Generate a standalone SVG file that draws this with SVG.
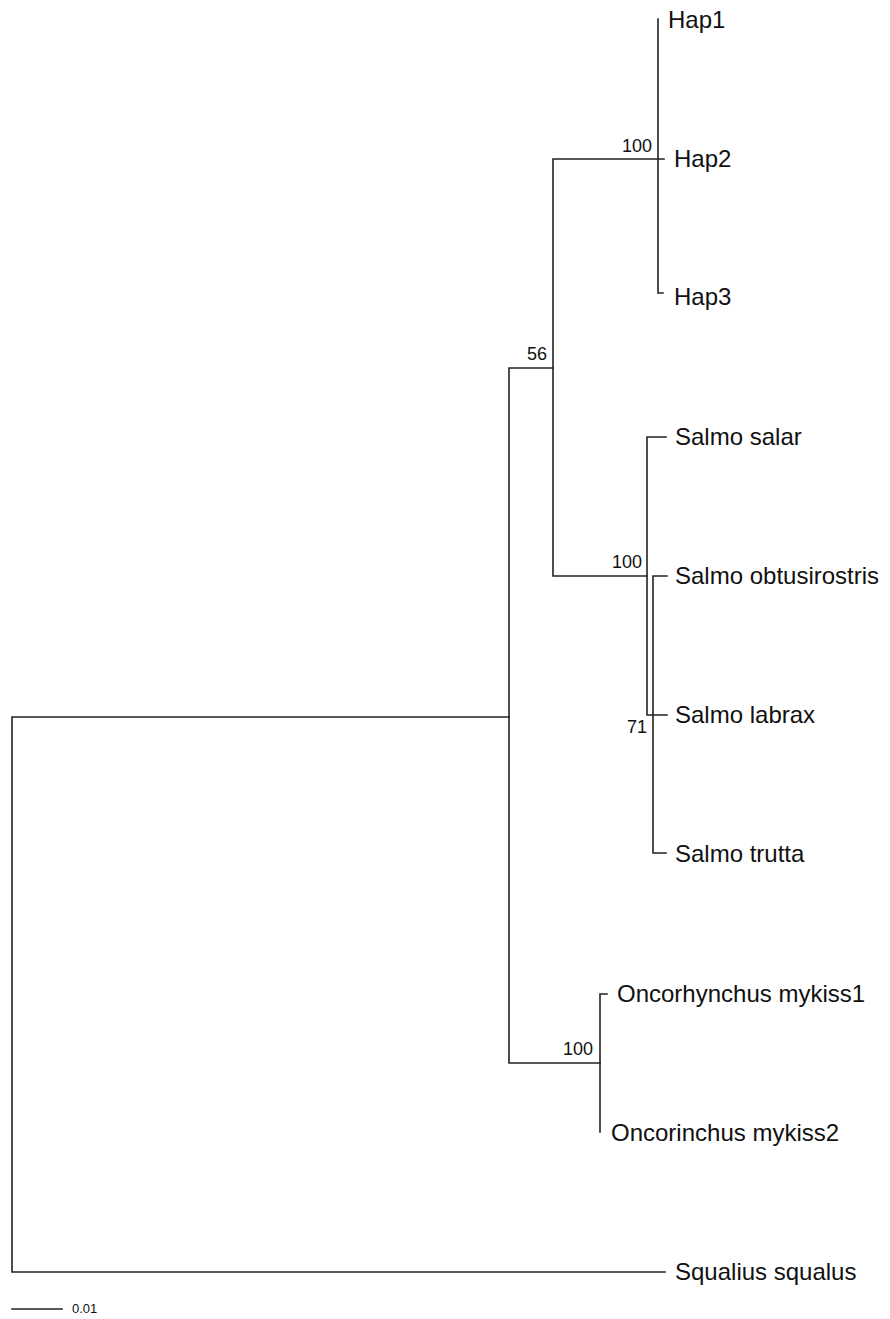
<svg xmlns="http://www.w3.org/2000/svg" width="890" height="1319" viewBox="0 0 890 1319">
<style>
.br{fill:none;stroke:#222;stroke-width:1.6;stroke-linecap:square}
.tx{font-family:"Liberation Sans",Arial,sans-serif;font-size:24px;fill:#111}
.bs{font-family:"Liberation Sans",Arial,sans-serif;font-size:18px;fill:#111;text-anchor:end}
.sc{font-family:"Liberation Sans",Arial,sans-serif;font-size:13px;fill:#111}
</style>
<rect width="890" height="1319" fill="#fff"/>
<g id="connectors">
<path class="br" d="M12,717 H509 M12,717 V1272 H665"/>
<path class="br" d="M509,368 V1063 M509,368 H553 M509,1063 H600"/>
<path class="br" d="M553,159 V576 M553,159 H664 M553,576 H647"/>
<path class="br" d="M658,19 V293 H663"/>
<path class="br" d="M647,437 V715 M647,437 H666 M647,715 H667"/>
<path class="br" d="M653,576 V853 H666 M653,576 H667"/>
<path class="br" d="M600,994 V1132 M600,994 H607"/>
</g>
<g id="bootstrap">
<text class="bs" x="652" y="152">100</text>
<text class="bs" x="547" y="360">56</text>
<text class="bs" x="642" y="568">100</text>
<text class="bs" x="647" y="733">71</text>
<text class="bs" x="593" y="1055">100</text>
</g>
<g id="Hap1"><text class="tx" x="668" y="28">Hap1</text></g>
<g id="Hap2"><text class="tx" x="674" y="167">Hap2</text></g>
<g id="Hap3"><text class="tx" x="674" y="305">Hap3</text></g>
<g id="SalmoSalar"><text class="tx" x="675" y="445">Salmo salar</text></g>
<g id="SalmoObtusirostris"><text class="tx" x="675" y="584">Salmo obtusirostris</text></g>
<g id="SalmoLabrax"><text class="tx" x="675" y="723">Salmo labrax</text></g>
<g id="SalmoTrutta"><text class="tx" x="675" y="862">Salmo trutta</text></g>
<g id="Onco1"><text class="tx" x="617" y="1002">Oncorhynchus mykiss1</text></g>
<g id="Onco2"><text class="tx" x="611" y="1141">Oncorinchus mykiss2</text></g>
<g id="Squalius"><text class="tx" x="675" y="1280">Squalius squalus</text></g>
<g id="scale">
<path class="br" d="M12,1309 H62"/>
<text class="sc" x="72" y="1313">0.01</text>
</g>
</svg>
